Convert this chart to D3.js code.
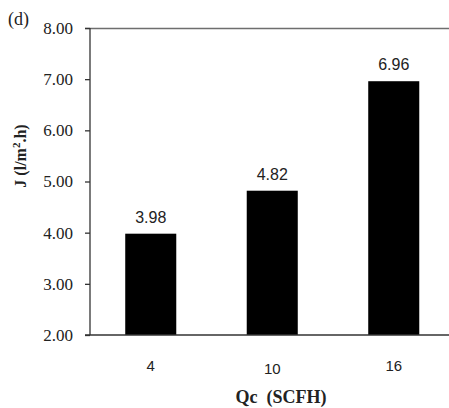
<!DOCTYPE html>
<html><head><meta charset="utf-8">
<script src="https://cdn.jsdelivr.net/npm/d3@7"></script>
<style>body{margin:0;background:#fff}</style>
</head><body>
<svg id="c" width="449" height="408"></svg>
<script>
const categories = ["4", "10", "16"];
const values = [3.98, 4.82, 6.96];
const yTicks = [2, 3, 4, 5, 6, 7, 8];

(function () {
const svg = d3.select("#c");
const mLeft = 90, mRight = 454.5, mTop = 28, mBottom = 335;
const x = d3.scaleBand().domain(categories).range([mLeft, mRight]).paddingInner(0.58).paddingOuter(0.29);
const y = d3.scaleLinear().domain([2, 8]).range([mBottom, mTop]);

// top border line
svg.append("line").attr("x1", 85).attr("x2", 449).attr("y1", mTop + 0.5).attr("y2", mTop + 0.5)
  .attr("stroke", "#6e6e6e").attr("stroke-width", 1.3);

// bars
svg.selectAll("rect.bar").data(values).enter().append("rect")
  .attr("x", (d, i) => x(categories[i]))
  .attr("width", x.bandwidth())
  .attr("y", d => y(d))
  .attr("height", d => mBottom - y(d))
  .attr("fill", "#000");

// y axis
const ya = svg.append("g").attr("transform", `translate(${mLeft},0)`)
  .call(d3.axisLeft(y).tickValues(yTicks).tickSize(5).tickPadding(12).tickFormat(d3.format(".2f")));
ya.select(".domain").attr("stroke", "#333").attr("stroke-width", 1.3).attr("d", `M0,${mTop}V${mBottom}`);
ya.selectAll(".tick line").attr("stroke", "#333").attr("stroke-width", 1.3);
ya.selectAll(".tick text").attr("font-family", "Liberation Serif").attr("font-size", 17).attr("fill", "#222");

// x axis
svg.append("line").attr("x1", 85).attr("x2", 449).attr("y1", mBottom).attr("y2", mBottom)
  .attr("stroke", "#333").attr("stroke-width", 1.3);
const xa = svg.append("g").attr("transform", `translate(0,${mBottom})`)
  .call(d3.axisBottom(x).tickSize(0).tickPadding(0));
xa.select(".domain").remove();
xa.selectAll(".tick text").attr("font-family", "Liberation Sans").attr("font-size", 15).attr("fill", "#222")
  .attr("dy", null).attr("y", (d) => d === "10" ? 39 : 36);

// value labels
svg.selectAll("text.val").data(values).enter().append("text")
  .attr("x", (d, i) => x(categories[i]) + x.bandwidth() / 2)
  .attr("y", d => y(d) - 11)
  .attr("text-anchor", "middle")
  .attr("font-family", "Liberation Sans").attr("font-size", 16).attr("fill", "#222")
  .text(d => d3.format(".2f")(d));

// titles
svg.append("text").attr("x", 281).attr("y", 403).attr("text-anchor", "middle")
  .attr("font-family", "Liberation Serif").attr("font-weight", "bold").attr("font-size", 18).attr("fill", "#222")
  .attr("xml:space", "preserve").text("Qc  (SCFH)");
svg.append("text").attr("transform", "translate(26,156) rotate(-90)").attr("text-anchor", "middle")
  .attr("font-family", "Liberation Serif").attr("font-weight", "bold").attr("font-size", 16).attr("fill", "#222")
  .html('J (l/m<tspan dy="-6" font-size="11">2</tspan><tspan dy="6">.h)</tspan>');
svg.append("text").attr("x", 8).attr("y", 25)
  .attr("font-family", "Liberation Serif").attr("font-size", 18).attr("fill", "#222").text("(d)");
})();
</script>
</body></html>
